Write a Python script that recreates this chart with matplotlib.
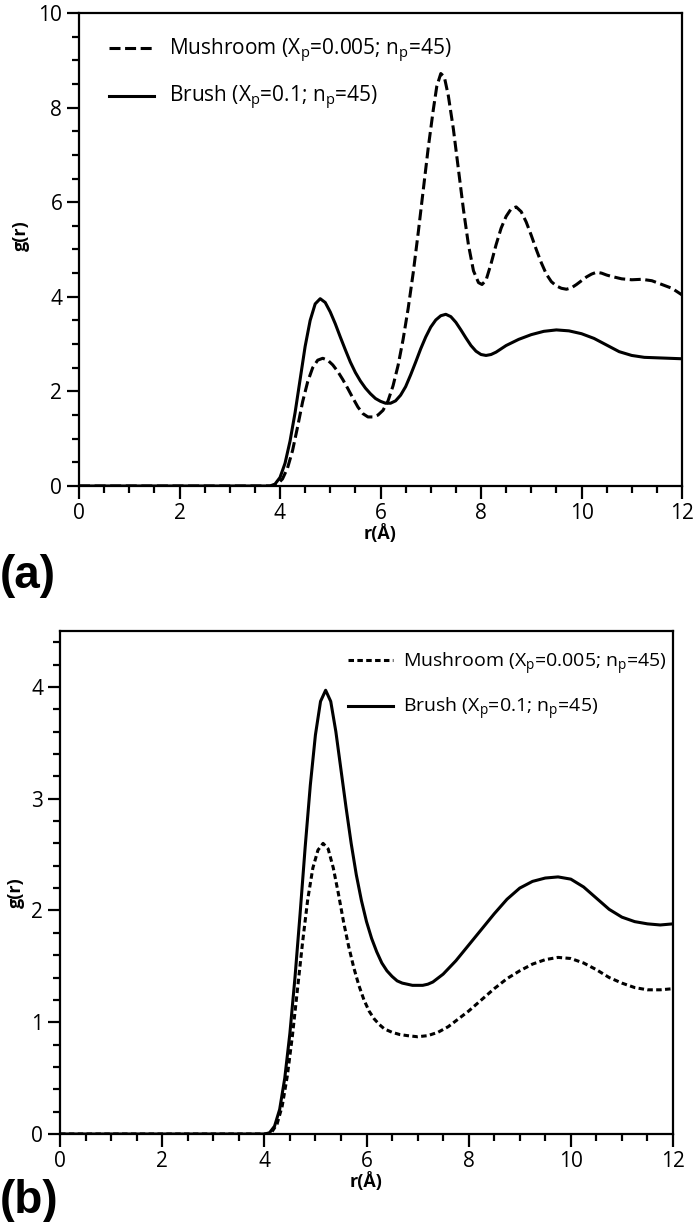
#!/usr/bin/env python3
''' Radial distribution functions g(r), mushroom vs brush regime
'''

import matplotlib
matplotlib.use('Agg')
from matplotlib import pyplot
from matplotlib.ticker import MultipleLocator

#
# data
#

# panel (a)
r_brush_a = [0.0, 3.8, 3.9, 4.0, 4.1, 4.2, 4.3, 4.4, 4.5, 4.6, 4.7, 4.8, 4.9,
             5.0, 5.1, 5.2, 5.3, 5.4, 5.5, 5.6, 5.7, 5.8, 5.9, 6.0, 6.1, 6.2,
             6.3, 6.4, 6.5, 6.6, 6.7, 6.8, 6.9, 7.0, 7.1, 7.2, 7.3, 7.4, 7.5,
             7.6, 7.7, 7.8, 7.9, 8.0, 8.1, 8.2, 8.3, 8.4, 8.5, 8.75, 9.0,
             9.25, 9.5, 9.75, 10.0, 10.25, 10.5, 10.75, 11.0, 11.25, 11.5,
             11.75, 12.0]
g_brush_a = [0.0, 0.0, 0.04, 0.18, 0.48, 0.95, 1.55, 2.25, 2.95, 3.5, 3.85,
             3.96, 3.88, 3.68, 3.43, 3.15, 2.88, 2.62, 2.4, 2.22, 2.07, 1.95,
             1.85, 1.79, 1.75, 1.75, 1.8, 1.92, 2.1, 2.35, 2.62, 2.9, 3.15,
             3.36, 3.51, 3.6, 3.63, 3.58, 3.46, 3.3, 3.13, 2.97, 2.85, 2.78,
             2.76, 2.78, 2.83, 2.9, 2.97, 3.1, 3.2, 3.27, 3.3, 3.28, 3.22,
             3.12, 2.98, 2.84, 2.76, 2.72, 2.71, 2.7, 2.69]

r_mush_a = [0.0, 3.85, 3.95, 4.05, 4.15, 4.25, 4.35, 4.45, 4.55, 4.65, 4.75,
            4.85, 4.95, 5.05, 5.15, 5.25, 5.35, 5.45, 5.55, 5.65, 5.75, 5.85,
            5.95, 6.05, 6.15, 6.25, 6.35, 6.45, 6.55, 6.65, 6.75, 6.85, 6.95,
            7.05, 7.12, 7.2, 7.27, 7.35, 7.45, 7.55, 7.65, 7.75, 7.85, 7.95,
            8.02, 8.1, 8.2, 8.3, 8.4, 8.5, 8.6, 8.7, 8.8, 8.9, 9.0, 9.1, 9.2,
            9.3, 9.4, 9.5, 9.6, 9.7, 9.8, 9.9, 10.0, 10.1, 10.2, 10.3, 10.4,
            10.5, 10.6, 10.8, 11.0, 11.2, 11.4, 11.6, 11.8, 12.0]
g_mush_a = [0.0, 0.0, 0.04, 0.15, 0.38, 0.75, 1.25, 1.78, 2.2, 2.5, 2.66,
            2.7, 2.66, 2.56, 2.42, 2.25, 2.06, 1.86, 1.67, 1.53, 1.46, 1.46,
            1.5, 1.6, 1.8, 2.12, 2.55, 3.1, 3.75, 4.5, 5.35, 6.25, 7.15,
            7.95, 8.45, 8.72, 8.65, 8.25, 7.55, 6.7, 5.85, 5.1, 4.55, 4.3,
            4.26, 4.35, 4.7, 5.1, 5.45, 5.7, 5.86, 5.9, 5.8, 5.58, 5.3, 5.0,
            4.72, 4.48, 4.32, 4.23, 4.18, 4.16, 4.19, 4.26, 4.34, 4.42, 4.48,
            4.52, 4.5, 4.46, 4.43, 4.38, 4.36, 4.37, 4.34, 4.26, 4.18, 4.04]

# panel (b)
r_brush_b = [0.0, 4.0, 4.1, 4.2, 4.3, 4.4, 4.5, 4.6, 4.7, 4.8, 4.9, 5.0, 5.1,
             5.2, 5.3, 5.4, 5.5, 5.6, 5.7, 5.8, 5.9, 6.0, 6.1, 6.2, 6.3, 6.4,
             6.5, 6.6, 6.7, 6.8, 6.9, 7.0, 7.1, 7.2, 7.3, 7.5, 7.75, 8.0,
             8.25, 8.5, 8.75, 9.0, 9.25, 9.5, 9.75, 10.0, 10.25, 10.5, 10.75,
             11.0, 11.25, 11.5, 11.75, 12.0]
g_brush_b = [0.0, 0.0, 0.01, 0.07, 0.22, 0.5, 0.9, 1.4, 1.97, 2.57, 3.12,
             3.57, 3.87, 3.97, 3.87, 3.6, 3.26, 2.92, 2.6, 2.32, 2.09, 1.9,
             1.75, 1.63, 1.53, 1.46, 1.41, 1.37, 1.35, 1.34, 1.33, 1.33, 1.33,
             1.34, 1.36, 1.43, 1.55, 1.69, 1.83, 1.97, 2.1, 2.2, 2.26, 2.29,
             2.3, 2.28, 2.21, 2.11, 2.01, 1.94, 1.9, 1.88, 1.87, 1.88]

r_mush_b = [0.0, 4.05, 4.15, 4.25, 4.35, 4.45, 4.55, 4.65, 4.75, 4.85, 4.95,
            5.05, 5.15, 5.25, 5.35, 5.45, 5.55, 5.65, 5.75, 5.85, 5.95, 6.05,
            6.15, 6.25, 6.35, 6.5, 6.65, 6.8, 7.0, 7.2, 7.4, 7.6, 7.8, 8.0,
            8.25, 8.5, 8.75, 9.0, 9.25, 9.5, 9.75, 10.0, 10.25, 10.5, 10.75,
            11.0, 11.25, 11.5, 11.75, 12.0]
g_mush_b = [0.0, 0.0, 0.02, 0.09, 0.25, 0.52, 0.88, 1.3, 1.72, 2.1, 2.38,
            2.54, 2.6, 2.55, 2.38, 2.15, 1.9, 1.68, 1.49, 1.33, 1.2, 1.1,
            1.03, 0.98, 0.94, 0.91, 0.89, 0.88, 0.87, 0.88, 0.91, 0.96, 1.03,
            1.1, 1.2, 1.3, 1.39, 1.46, 1.52, 1.56, 1.58, 1.57, 1.53, 1.47,
            1.4, 1.35, 1.31, 1.29, 1.29, 1.3]

label_mush = r'Mushroom (X$_\mathregular{p}$=0.005; n$_\mathregular{p}$=45)'
label_brush = r'Brush (X$_\mathregular{p}$=0.1; n$_\mathregular{p}$=45)'

#
# style
#

pyplot.rcParams['font.family'] = ['Open Sans', 'DejaVu Sans']
pyplot.rcParams['mathtext.fontset'] = 'custom'
pyplot.rcParams['mathtext.rm'] = 'Open Sans'


def style_axes(ax, ymax, ymajor, yminor):
    ax.set_xlim(0, 12)
    ax.set_ylim(0, ymax)
    ax.xaxis.set_major_locator(MultipleLocator(2))
    ax.xaxis.set_minor_locator(MultipleLocator(0.5))
    ax.yaxis.set_major_locator(MultipleLocator(ymajor))
    ax.yaxis.set_minor_locator(MultipleLocator(yminor))
    ax.tick_params(which='both', direction='out', width=1.6, labelsize=15,
                   top=False, right=False)
    ax.tick_params(which='major', length=9, pad=3)
    ax.tick_params(which='minor', length=5)
    for sp in ax.spines.values():
        sp.set_linewidth(1.6)
    ax.set_xlabel('r(Å)', fontsize=13, fontweight='bold', labelpad=0)
    ax.set_ylabel('g(r)', fontsize=13, fontweight='bold')

#
# figure
#

fig = pyplot.figure(figsize=(6.98, 12.22), dpi=100)

# (a)
ax1 = fig.add_axes([79/698, 1 - 486/1222, 603/698, 473/1222])
ax1.plot(r_mush_a, g_mush_a, color='black', lw=2.2, dashes=(3.6, 1.5),
         label=label_mush)
ax1.plot(r_brush_a, g_brush_a, color='black', lw=2.2, label=label_brush)
style_axes(ax1, 10, 2, 0.5)
ax1.yaxis.set_label_coords(-0.081, 0.53)
ax1.legend(loc='upper left', frameon=False, fontsize=15, handlelength=2.2,
           handletextpad=0.7, labelspacing=0.95, borderaxespad=0.5,
           bbox_to_anchor=(0.018, 0.99))
fig.text(0.0, 1 - 576/1222, '(a)', fontsize=33, fontweight='bold',
         family='Liberation Sans', va='center', ha='left')

# (b)
ax2 = fig.add_axes([60/698, 1 - 1134/1222, 613/698, 503/1222])
ax2.plot(r_mush_b, g_mush_b, color='black', lw=2.2, dashes=(1.8, 1.1),
         label=label_mush)
ax2.plot(r_brush_b, g_brush_b, color='black', lw=2.2, label=label_brush)
style_axes(ax2, 4.5, 1, 0.2)
ax2.yaxis.set_label_coords(-0.057, 0.48)
ax2.legend(loc='upper right', frameon=False, fontsize=14, handlelength=2.3,
           handletextpad=0.5, labelspacing=1.0, borderaxespad=0.5,
           bbox_to_anchor=(1.018, 0.997))
fig.text(0.0, 1 - 1201/1222, '(b)', fontsize=33, fontweight='bold',
         family='Liberation Sans', va='center', ha='left')

fig.savefig('out.png', dpi=100)
